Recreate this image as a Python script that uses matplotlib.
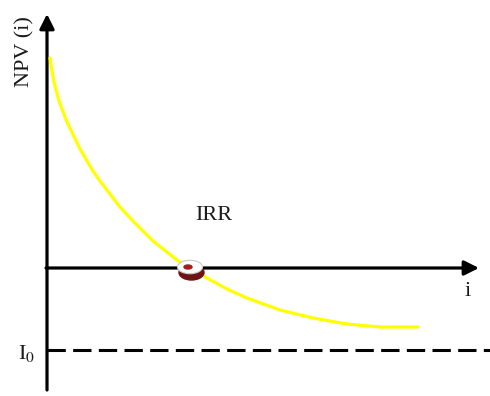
import matplotlib.pyplot as plt
from matplotlib.patches import Ellipse

plt.rcParams['font.family'] = ['Liberation Serif', 'DejaVu Serif']
plt.rcParams['mathtext.fontset'] = 'stix'

# NPV profile against discount rate i (arbitrary units)
rate = [0.3, 0.5, 0.7, 1.2, 2.0, 3.3, 4.6, 5.3, 6.3, 7.3, 8.6, 10.6, 13.0,
        14.3, 16.0, 18.0, 20.0, 23.3, 26.6, 30.0, 33.3, 37.1]
npv = [21.0, 19.7, 18.6, 16.7, 14.6, 11.9, 9.7, 8.7, 7.4, 6.1, 4.7, 2.7,
       0.8, 0.0, -1.0, -2.1, -3.0, -4.2, -5.0, -5.6, -5.9, -5.9]
irr = 14.4
i0 = -8.2

fig = plt.figure(figsize=(4.9, 3.96), dpi=100)
ax = fig.add_axes([0, 0, 1, 1])
ax.set_xlim(-4.7, 44.3)
ax.set_ylim(-12.8, 26.8)
ax.axis('off')

# axes with arrow heads
arr = dict(arrowstyle='-|>', lw=2.3, color='black', mutation_scale=22,
           shrinkA=0, shrinkB=0)
ax.annotate('', xy=(0, 25.4), xytext=(0, -12.2), arrowprops=arr)
ax.annotate('', xy=(43.2, 0), xytext=(-0.1, 0), arrowprops=arr)

# initial investment level
ax.plot([0, 44.3], [i0, i0], color='black', lw=2.2, dashes=(6, 2.4))

ax.plot(rate, npv, color='#ffff00', lw=2.3, solid_capstyle='round',
        solid_joinstyle='round', zorder=3)

# IRR point
ax.add_patch(Ellipse((irr + 0.05, -0.45), 2.5, 1.5, color='#6e1414', zorder=4))
ax.add_patch(Ellipse((irr - 0.1, 0.1), 2.5, 1.35, facecolor='white',
                     edgecolor='#c8c8c8', lw=0.8, zorder=5))
ax.add_patch(Ellipse((irr - 0.3, 0.1), 0.8, 0.4, color='#a01e1e', zorder=6))

ax.text(16.7, 5.3, 'IRR', fontsize=16, ha='center', va='center', color='#1a1a1a')
ax.text(42.1, -2.3, 'i', fontsize=16, ha='center', va='center', color='#1a1a1a')
ax.text(-2.0, -8.5, 'I$_0$', fontsize=16, ha='center', va='center', color='#1a1a1a')
ax.text(-2.2, 21.6, 'NPV (i)', fontsize=16, rotation=90,
        ha='center', va='center', color='#1a1a1a')

fig.savefig('out.png', dpi=100)
